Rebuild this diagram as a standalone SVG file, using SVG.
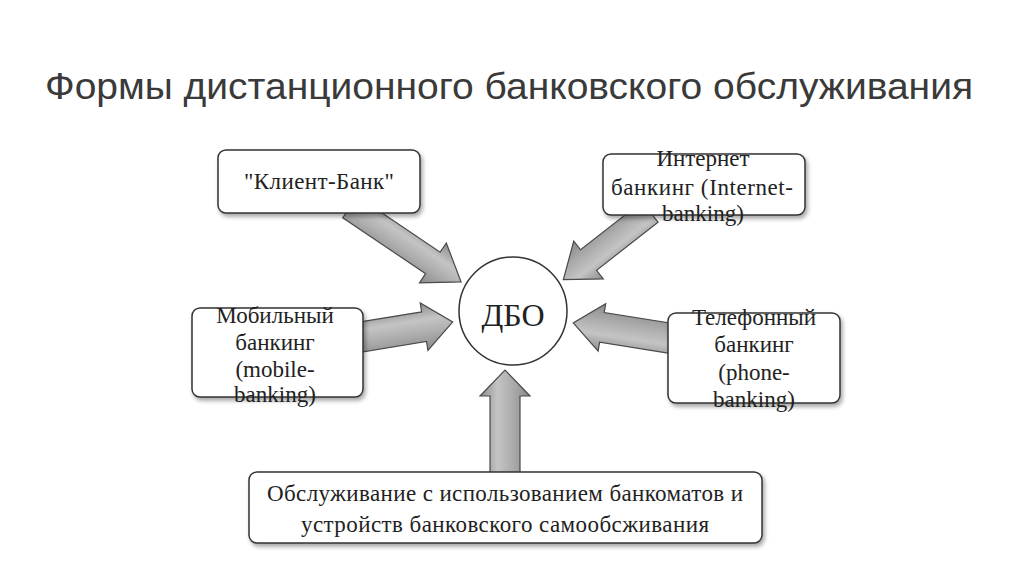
<svg xmlns="http://www.w3.org/2000/svg" width="1024" height="574" viewBox="0 0 1024 574">
<defs>
<linearGradient id="ag" x1="0" y1="0" x2="0" y2="1">
<stop offset="0" stop-color="#8c8c8c"/>
<stop offset="0.35" stop-color="#c4c4c4"/>
<stop offset="0.6" stop-color="#b0b0b0"/>
<stop offset="1" stop-color="#8a8a8a"/>
</linearGradient>
<filter id="sh" x="-10%" y="-10%" width="130%" height="140%">
<feDropShadow dx="2" dy="3" stdDeviation="2" flood-color="#000" flood-opacity="0.35"/>
</filter>
</defs>
<style>
.box{fill:#fff;stroke:#333;stroke-width:1.5;filter:url(#sh)}
.arr{fill:url(#ag);stroke:#4a4a4a;stroke-width:1.2;stroke-linejoin:miter}
.t{font-family:"Liberation Serif","Times New Roman",serif;font-size:23px;fill:#222;text-anchor:middle}
.title{font-family:"Liberation Sans",Arial,sans-serif;font-size:36px;fill:#3a3a3a}
</style>
<rect width="1024" height="574" fill="#fff"/>
<text class="title" x="45" y="99" textLength="928" lengthAdjust="spacingAndGlyphs">Формы дистанционного банковского обслуживания</text>
<g id="connectors">
<path class="arr" transform="translate(350,207) rotate(34)" d="M0,-13 L100,-13 L100,-24 L134,0 L100,24 L100,13 L0,13 Z"/>
<path class="arr" transform="translate(650,212) rotate(142)" d="M0,-13 L78,-13 L78,-24 L110,0 L78,24 L78,13 L0,13 Z"/>
<path class="arr" transform="translate(355,338) rotate(-9.3)" d="M0,-15 L70,-15 L70,-24 L99,0 L70,24 L70,15 L0,15 Z"/>
<path class="arr" transform="translate(675,339) rotate(189)" d="M0,-15 L74,-15 L74,-24 L103,0 L74,24 L74,15 L0,15 Z"/>
<path class="arr" transform="translate(505,476) rotate(-90)" d="M0,-15 L80,-15 L80,-25 L106,0 L80,25 L80,15 L0,15 Z"/>
</g>
<g id="dbo">
<circle cx="513" cy="311" r="54" fill="#fff" stroke="#333" stroke-width="1.5"/>
<text class="t" x="513" y="326" style="font-size:32px">ДБО</text>
</g>
<g id="client-bank">
<rect class="box" x="218" y="150" width="202" height="63" rx="8"/>
<text class="t" x="319" y="189" textLength="150">"Клиент-Банк"</text>
</g>
<g id="internet">
<rect class="box" x="603" y="154" width="202" height="61" rx="8"/>
<text class="t" x="703" y="166">Интернет</text>
<text class="t" x="702" y="195" textLength="182">банкинг (Internet-</text>
<text class="t" x="703" y="221">banking)</text>
</g>
<g id="mobile">
<rect class="box" x="192" y="308" width="171" height="89" rx="8"/>
<text class="t" x="275" y="323">Мобильный</text>
<text class="t" x="275" y="350">банкинг</text>
<text class="t" x="275" y="377">(mobile-</text>
<text class="t" x="275" y="402">banking)</text>
</g>
<g id="phone">
<rect class="box" x="668" y="313" width="172" height="90" rx="8"/>
<text class="t" x="754" y="325">Телефонный</text>
<text class="t" x="754" y="352">банкинг</text>
<text class="t" x="754" y="380">(phone-</text>
<text class="t" x="754" y="407">banking)</text>
</g>
<g id="atm">
<rect class="box" x="249" y="472" width="513" height="71" rx="8"/>
<text class="t" x="505" y="501" textLength="476">Обслуживание с использованием банкоматов и</text>
<text class="t" x="505" y="532" textLength="408">устройств банковского самообсживания</text>
</g>
</svg>
